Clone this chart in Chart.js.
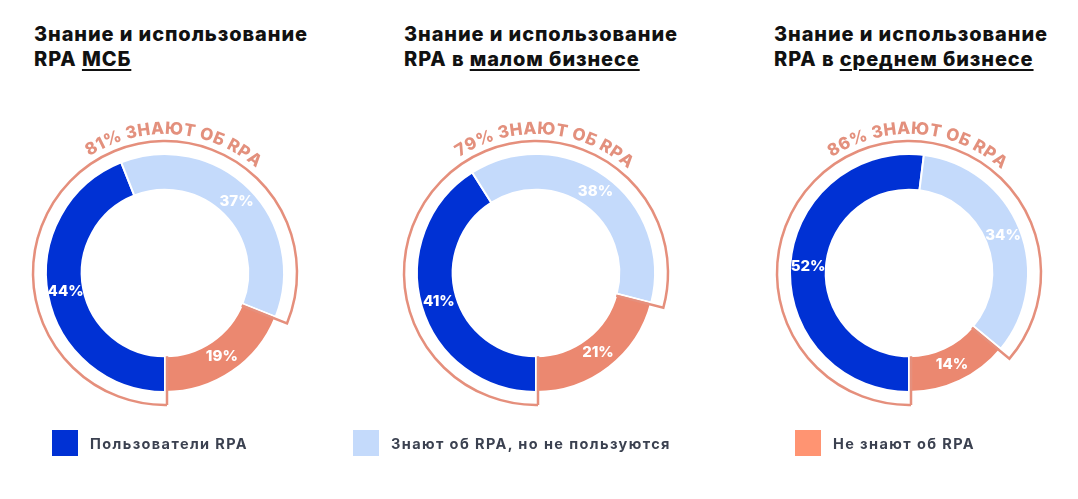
<!DOCTYPE html>
<html lang="ru">
<head>
<meta charset="utf-8">
<script src="https://cdn.jsdelivr.net/npm/chart.js@4.4.1/dist/chart.umd.min.js"></script>
<style>
    body { margin: 0; width: 1078px; height: 499px; background: #fff; overflow: hidden; position: relative; font-family: Inter, 'Open Sans', sans-serif; }
    .title { position: absolute; top: 22px; font-size: 20px; font-weight: 800; line-height: 25px; letter-spacing: 0.9px; color: #111; }
    .title u { text-decoration-thickness: 2px; text-underline-offset: 3px; }
    .chart { position: absolute; top: 108px; width: 330px; height: 330px; }
    .legend-item { position: absolute; top: 430px; display: flex; align-items: center; font-size: 14.5px; font-weight: 700; letter-spacing: 1.4px; color: #3b4150; }
    .legend-item span { display: inline-block; width: 26px; height: 26px; margin-right: 12px; }
</style>
</head>
<body>
<div class="title" style="left:34px">Знание и использование<br>RPA <u>МСБ</u></div>
<div class="title" style="left:404px">Знание и использование<br>RPA в <u>малом бизнесе</u></div>
<div class="title" style="left:774px">Знание и использование<br>RPA в <u>среднем бизнесе</u></div>

<div class="chart" style="left:0px"><canvas id="c0"></canvas></div>
<div class="chart" style="left:371px"><canvas id="c1"></canvas></div>
<div class="chart" style="left:744px"><canvas id="c2"></canvas></div>

<div class="legend-item" style="left:52px"><span style="background:#0031d4"></span>Пользователи RPA</div>
<div class="legend-item" style="left:353px"><span style="background:#c4dafb"></span>Знают об RPA, но не пользуются</div>
<div class="legend-item" style="left:795px"><span style="background:#ff9472"></span>Не знают об RPA</div>

<script>
// Data
const categories = ['Пользователи RPA', 'Знают об RPA, но не пользуются', 'Не знают об RPA'];
const msbValues = [44, 37, 19];
const smallValues = [41, 38, 21];
const mediumValues = [52, 34, 14];
const awareSuffix = '% ЗНАЮТ ОБ RPA';

const COLORS = {
    users: '#0031d4',
    aware: '#c4dafb',
    unaware: '#eb8870',
    outline: '#e58f7c',
    arcText: '#e3907d'
};

// outline around the "aware" segments + curved caption
const awarePlugin = {
    id: 'awareOutline',
    afterDatasetsDraw(chart) {
        const ctx = chart.ctx;
        const meta = chart.getDatasetMeta(0);
        const a0 = meta.data[0];
        const a1 = meta.data[1];
        const cx = a0.x, cy = a0.y;
        const ri = a0.innerRadius;
        const ro = a0.outerRadius + 13;
        const start = a0.startAngle;
        const end = a1.endAngle;
        const d = 2;

        const pt = (r, ang, shift) => [
            cx + r * Math.cos(ang) - shift * Math.sin(ang),
            cy + r * Math.sin(ang) + shift * Math.cos(ang)
        ];

        ctx.save();
        ctx.strokeStyle = COLORS.outline;
        ctx.lineWidth = 2.5;
        ctx.beginPath();
        let p = pt(ri, start, -d);
        ctx.moveTo(p[0], p[1]);
        p = pt(ro, start, -d);
        ctx.lineTo(p[0], p[1]);
        ctx.arc(cx, cy, ro, start - d / ro, end + d / ro);
        p = pt(ri, end, d);
        ctx.lineTo(p[0], p[1]);
        ctx.stroke();

        // curved text
        const values = chart.data.datasets[0].data;
        const text = (values[0] + values[1]) + awareSuffix;
        const rText = ro + 7;
        const spacing = 0.4;
        ctx.font = '800 17px Inter, sans-serif';
        ctx.fillStyle = COLORS.arcText;
        ctx.textAlign = 'center';
        ctx.textBaseline = 'alphabetic';
        const widths = [...text].map((ch) => ctx.measureText(ch).width + spacing);
        const total = widths.reduce((s, w) => s + w, 0) - spacing;
        let ang = -Math.PI / 2 + 4 * Math.PI / 180 - total / 2 / rText;
        [...text].forEach((ch, i) => {
            const w = widths[i];
            const a = ang + (w - spacing) / 2 / rText;
            ctx.save();
            ctx.translate(cx + rText * Math.cos(a), cy + rText * Math.sin(a));
            ctx.rotate(a + Math.PI / 2);
            ctx.fillText(ch, 0, 0);
            ctx.restore();
            ang += w / rText;
        });
        ctx.restore();

        // value labels
        ctx.save();
        ctx.font = '800 15px Inter, sans-serif';
        ctx.fillStyle = '#ffffff';
        ctx.textAlign = 'center';
        ctx.textBaseline = 'middle';
        meta.data.forEach((arc, i) => {
            const pos = arc.tooltipPosition();
            ctx.fillText(values[i] + '%', pos.x, pos.y);
        });
        ctx.restore();
    }
};

function makeChart(id, values) {
    new Chart(document.getElementById(id), {
        type: 'doughnut',
        data: {
            labels: categories,
            datasets: [{
                data: values,
                backgroundColor: [COLORS.users, COLORS.aware, COLORS.unaware],
                borderColor: '#ffffff',
                borderWidth: 2
            }]
        },
        options: {
            responsive: true,
            maintainAspectRatio: false,
            animation: false,
            rotation: 180,
            radius: 119,
            cutout: '70%',
            plugins: {
                legend: { display: false },
                tooltip: { enabled: false }
            }
        },
        plugins: [awarePlugin]
    });
}

makeChart('c0', msbValues);
makeChart('c1', smallValues);
makeChart('c2', mediumValues);
</script>
</body>
</html>
